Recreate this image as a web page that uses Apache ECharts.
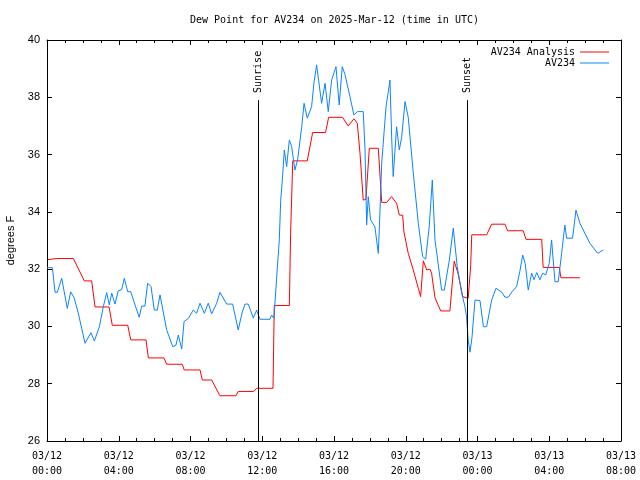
<!DOCTYPE html>
<html><head><meta charset="utf-8">
<script src="https://cdn.jsdelivr.net/npm/echarts@6/dist/echarts.min.js"></script>
<style>html,body{margin:0;padding:0;background:#fff}#c{width:640px;height:480px}</style>
</head><body><div id="c"></div>
<script>
// x values are hours since 03/12 00:00 UTC
const titleText = 'Dew Point for AV234 on 2025-Mar-12 (time in UTC)';
const xTickLabels = ['03/12\n00:00','03/12\n04:00','03/12\n08:00','03/12\n12:00','03/12\n16:00','03/12\n20:00','03/13\n00:00','03/13\n04:00','03/13\n08:00'];
const yTicks = [26,28,30,32,34,36,38,40];
const seriesNames = ['AV234 Analysis','AV234'];
const sunriseHour = 11.76, sunsetHour = 23.41;
const eventLineTop = 37.9;

const analysisHours = [0.05,0.54,1.47,2.08,2.49,2.68,3.46,3.64,4.50,4.67,5.52,5.65,6.52,6.67,7.54,7.65,8.53,8.66,9.18,9.64,10.54,10.66,11.50,11.69,12.60,12.67,13.51,13.58,13.70,14.51,14.81,15.53,15.70,16.48,16.79,17.11,17.30,17.45,17.63,17.78,17.97,18.47,18.66,18.94,19.21,19.49,19.64,19.83,19.90,20.14,20.42,20.70,20.83,20.98,21.17,21.35,21.44,21.63,21.95,22.46,22.70,22.91,23.18,23.48,23.62,23.68,24.51,24.79,25.53,25.68,26.55,26.70,27.58,27.66,28.56,28.65,29.71];
const analysisValues = [32.33,32.37,32.37,31.59,31.59,30.68,30.68,30.04,30.04,29.53,29.53,28.90,28.90,28.68,28.68,28.48,28.48,28.13,28.13,27.58,27.58,27.73,27.73,27.84,27.84,30.73,30.73,33.2,35.78,35.78,36.77,36.77,37.30,37.30,37.00,37.25,37.09,36.04,34.41,34.44,36.22,36.22,34.33,34.33,34.53,34.30,33.89,33.88,33.3,32.55,31.97,31.33,31.04,32.29,31.97,32.0,31.86,31.0,30.54,30.54,32.28,31.86,31.04,30.98,32.11,33.2,33.2,33.57,33.57,33.34,33.34,33.04,33.04,32.06,32.06,31.70,31.70];

const obsHours = [0,0.30,0.45,0.57,0.82,1.13,1.32,1.51,1.73,2.12,2.45,2.64,2.92,3.14,3.33,3.47,3.61,3.79,3.97,4.16,4.31,4.50,4.67,4.85,5.14,5.28,5.46,5.61,5.80,5.98,6.15,6.30,6.67,7.01,7.19,7.32,7.51,7.64,7.88,8.15,8.34,8.53,8.77,8.99,9.18,9.46,9.64,10.02,10.35,10.66,10.89,11.04,11.22,11.50,11.69,11.87,12.15,12.43,12.52,12.65,12.80,12.95,13.03,13.12,13.23,13.36,13.51,13.64,13.82,13.97,14.20,14.33,14.51,14.75,14.88,15.03,15.12,15.31,15.50,15.68,15.87,16.11,16.29,16.46,16.61,16.89,17.11,17.30,17.63,17.73,17.82,17.91,18.04,18.28,18.47,18.56,18.66,18.90,19.12,19.22,19.30,19.49,19.64,19.77,19.96,20.14,20.42,20.70,20.94,21.11,21.31,21.48,21.63,22.00,22.15,22.43,22.65,22.87,23.12,23.30,23.39,23.48,23.58,23.69,23.86,24.14,24.33,24.51,24.79,25.03,25.35,25.53,25.72,25.91,26.18,26.37,26.52,26.66,26.83,27.02,27.15,27.30,27.48,27.63,27.80,28.00,28.13,28.32,28.50,28.69,28.87,28.97,29.30,29.49,29.71,29.99,30.27,30.70,31.01];
const obsValues = [32.05,32.05,31.19,31.19,31.68,30.63,31.21,31.0,30.5,29.41,29.78,29.49,29.99,30.69,31.18,30.75,31.16,30.78,31.24,31.28,31.68,31.21,31.21,30.86,30.32,30.71,30.71,31.51,31.39,30.57,30.57,31.10,29.88,29.29,29.35,29.70,29.21,30.17,30.28,30.57,30.46,30.81,30.46,30.81,30.44,30.81,31.19,30.78,30.78,29.88,30.51,30.78,30.78,30.29,30.57,30.25,30.25,30.25,30.40,30.28,31.68,33.02,34.41,35.11,36.16,35.58,36.51,36.28,35.46,35.81,36.97,37.79,37.27,37.67,38.49,39.13,38.7,37.79,38.49,37.50,38.6,39.07,37.73,39.07,38.8,38.02,37.38,37.50,37.50,36.16,33.54,34.53,33.72,33.48,32.55,33.95,35.70,37.67,38.6,36.51,35.23,36.97,36.16,36.6,37.85,37.3,35.35,33.6,32.44,32.35,33.48,35.11,33.02,31.27,31.27,32.32,33.43,32.09,31.16,30.69,30.34,29.53,29.1,29.6,30.92,30.9,29.99,29.99,30.92,31.33,31.2,31.02,31.02,31.2,31.39,31.95,32.49,32.2,31.27,31.86,31.63,31.88,31.63,31.86,31.8,32.2,33.02,31.56,31.56,32.55,33.54,33.08,33.08,34.06,33.6,33.25,32.90,32.55,32.67];

const zip = (a, b) => a.map((v, i) => [v, b[i]]);
const mono = 'DejaVu Sans Mono';
const sans = 'Liberation Sans';

const baseX = {
  type: 'value', min: 0, max: 32, interval: 4,
  axisLine: { show: true, onZero: false, lineStyle: { color: '#000', width: 1 } },
  axisTick: { show: true, inside: true, length: 5, lineStyle: { color: '#000' } },
  minorTick: { show: true, splitNumber: 4, length: 3, lineStyle: { color: '#000' } },
  splitLine: { show: false }
};
const baseY = {
  type: 'value', min: 26, max: 40, interval: 2,
  axisLine: { show: true, onZero: false, lineStyle: { color: '#000', width: 1 } },
  axisTick: { show: true, inside: true, length: 5, lineStyle: { color: '#000' } },
  splitLine: { show: false }
};

function eventMarker(h, name) {
  return {
    line: [{ coord: [h, 26] }, { coord: [h, eventLineTop] }],
    point: { coord: [h, eventLineTop + 0.25], value: name }
  };
}
const events = [eventMarker(sunriseHour, 'Sunrise'), eventMarker(sunsetHour, 'Sunset')];

const chart = echarts.init(document.getElementById('c'), null, { renderer: 'canvas' });
chart.setOption({
  animation: false,
  backgroundColor: '#fff',
  title: {
    text: titleText, left: 185, top: 10,
    textStyle: { fontFamily: mono, fontSize: 10, fontWeight: 'normal', color: '#000' }
  },
  legend: {
    orient: 'vertical', right: 26, top: 42, align: 'right', itemGap: 1,
    itemWidth: 29, itemHeight: 1, icon: 'rect',
    textStyle: { fontFamily: mono, fontSize: 10, color: '#000' },
    data: seriesNames
  },
  grid: { left: 47, right: 19, top: 40, bottom: 39, containLabel: false, outerBoundsMode: 'none' },
  xAxis: [
    Object.assign({}, baseX, {
      position: 'bottom',
      axisLabel: {
        margin: 8, fontFamily: mono, fontSize: 10, color: '#000', lineHeight: 15,
        formatter: v => xTickLabels[Math.round(v / 4)]
      }
    }),
    Object.assign({}, baseX, { position: 'top', axisLabel: { show: false } })
  ],
  yAxis: [
    Object.assign({}, baseY, {
      position: 'left',
      name: 'degrees F', nameLocation: 'middle', nameGap: 31, nameRotate: 90,
      nameTextStyle: { fontFamily: sans, fontSize: 11, color: '#000' },
      axisLabel: { margin: 7, fontFamily: sans, fontSize: 11, color: '#000',
        formatter: v => String(yTicks[yTicks.indexOf(v)]) }
    }),
    Object.assign({}, baseY, { position: 'right', axisLabel: { show: false } })
  ],
  series: [
    {
      name: seriesNames[0], type: 'line', symbol: 'none',
      lineStyle: { color: '#ff0000', width: 1 }, itemStyle: { color: '#ff0000' },
      data: zip(analysisHours, analysisValues),
      markLine: {
        silent: true, symbol: 'none', animation: false,
        lineStyle: { color: '#000', width: 1, type: 'solid' },
        label: { show: false },
        data: events.map(e => e.line)
      },
      markPoint: {
        silent: true, symbol: 'circle', symbolSize: 0, animation: false,
        label: {
          show: true, position: 'inside', rotate: 90, align: 'left', verticalAlign: 'middle',
          offset: [0, 0], fontFamily: mono, fontSize: 10, color: '#000',
          formatter: p => p.value
        },
        data: events.map(e => e.point)
      }
    },
    {
      name: seriesNames[1], type: 'line', symbol: 'none',
      lineStyle: { color: '#0a84ff', width: 1 }, itemStyle: { color: '#0a84ff' },
      data: zip(obsHours, obsValues)
    }
  ]
});
</script></body></html>
